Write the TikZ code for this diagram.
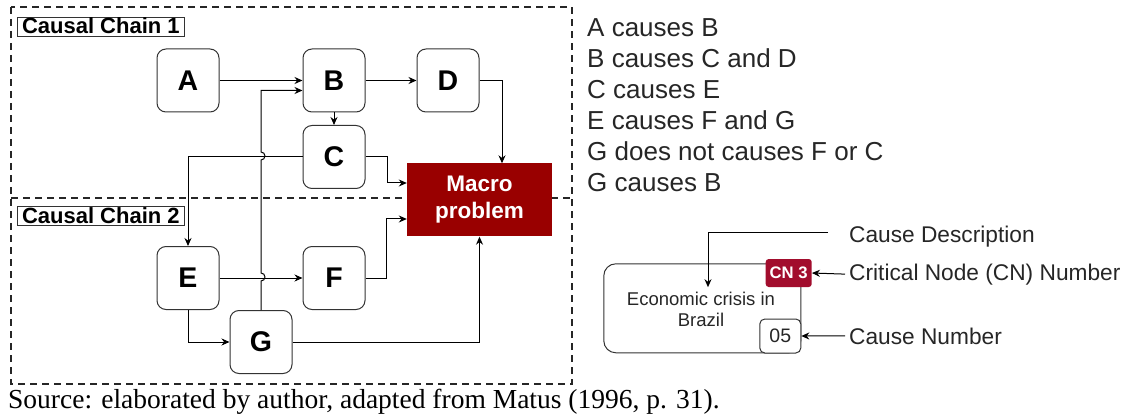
\documentclass[tikz,border=0pt]{standalone}
\usepackage{fontspec}
\setmainfont{Liberation Serif}
\setsansfont{Liberation Sans}
\usetikzlibrary{arrows.meta}
\definecolor{macrored}{RGB}{153,0,0}
\definecolor{cnred}{RGB}{162,13,45}
\definecolor{txtgray}{RGB}{38,38,38}

\begin{document}
\begin{tikzpicture}[x=1pt, y=-1pt,
    cnode/.style={draw=black!80, line width=1pt, rounded corners=9pt, minimum width=62pt, minimum height=63pt, font=\sffamily\bfseries\fontsize{28.5}{32}\selectfont},
    chainlabel/.style={draw=black!80, line width=1pt, anchor=north west, inner xsep=4.5pt, inner ysep=1pt, text height=15.5pt, text depth=2pt, font=\sffamily\bfseries\fontsize{22}{24}\selectfont},
    macro/.style={fill=macrored, text=white, minimum width=145pt, minimum height=73pt, align=center, font=\sffamily\bfseries\fontsize{22.5}{27}\selectfont},
    arr/.style={-{Stealth[length=8pt, width=7pt]}, line width=1pt},
    chainframe/.style={draw=black!85, line width=1.8pt, dash pattern=on 7pt off 5pt},
    legtext/.style={anchor=base west, inner sep=0pt, text=txtgray, font=\sffamily\fontsize{22.7}{26}\selectfont}
  ]
  \useasboundingbox (0,0) rectangle (1127,414);

  % Causal chain frames
  \draw[chainframe] (11,7) rectangle (572,384);
  \draw[chainframe] (11,198) -- (572,198);
  \node[chainlabel] (chain1) at (17,17) {Causal Chain 1};
  \node[chainlabel] (chain2) at (17,206) {Causal Chain 2};

  % Causes
  \node[cnode] (A) at (188,80.5) {A};
  \node[cnode] (B) at (334,80.5) {B};
  \node[cnode] (D) at (448,80.5) {D};
  \node[cnode] (C) at (334,157) {C};
  \node[cnode] (E) at (188,278) {E};
  \node[cnode] (F) at (334,278) {F};
  \node[cnode] (G) at (261,342) {G};

  % Macro problem
  \node[macro] (macro) at (479.5,200) {Macro\\problem};

  % Arrows - chain 1
  \draw[arr] (A) -- (B);
  \draw[arr] (B) -- (D);
  \draw[arr] (B) -- (C);
  \draw[arr] (D.east) -| ([xshift=22.5pt]macro.north);
  \draw[arr] (C.east) -- ++(22,0) |- ([yshift=17pt]macro.west);
  \draw[arr] (C.west) -| (E.north);

  % Arrows - chain 2
  \draw[arr] (E) -- (F);
  \draw[arr] (E.south) |- (G.west);
  \draw[arr] (F.east) -- ++(21,0) |- ([yshift=-19pt]macro.west);
  \draw[arr] (G.east) -| (macro.south);
  % G -> B, jumps over E->F and C->E
  \draw[arr] (G.north) -- ++(0,-29) arc[start angle=90, end angle=-90, radius=4]
    -- ++(0,-113) arc[start angle=90, end angle=-90, radius=4]
    |- ([yshift=-10pt]B.west);

  % Relations
  \node[anchor=north west, inner sep=0pt, align=left, text=txtgray,
    font=\sffamily\fontsize{26}{31}\selectfont] (rules) at (587,18.5)
    {A causes B\\B causes C and D\\C causes E\\E causes F and G\\G does not causes F or C\\G causes B};

  % Legend
  \node[draw=black!80, line width=1pt, rounded corners=12pt, minimum width=197pt, minimum height=89pt] (leg) at (702.3,308.3) {};
  \node[align=center, text=txtgray, font=\sffamily\fontsize{18.5}{21}\selectfont] (desc) at (701,309) {Economic crisis in\\Brazil};
  \node[fill=cnred, text=white, rounded corners=3pt, minimum width=46pt, minimum height=28pt, inner sep=0pt, font=\sffamily\bfseries\fontsize{16.7}{19}\selectfont] (cn) at (788.7,273) {CN 3};
  \node[draw=black!80, fill=white, line width=1pt, rounded corners=5pt, minimum width=41pt, minimum height=34pt, inner sep=0pt, text=txtgray, font=\sffamily\fontsize{19.5}{22}\selectfont] (num) at (780.3,336) {05};

  \node[legtext] (cdlbl) at (849,242) {Cause Description};
  \node[legtext] (cnlbl) at (849,280) {Critical Node (CN) Number};
  \node[legtext] (numlbl) at (849,344) {Cause Number};

  \draw[arr] ([xshift=-21pt, yshift=4pt]cdlbl.west) -| ([xshift=7pt, yshift=1pt]desc.north);
  \draw[arr] ([xshift=-4pt]cnlbl.west) -- (cn.east);
  \draw[arr] ([xshift=-4pt]numlbl.west) -- (num.east);

  % Source
  \node[anchor=base west, inner sep=0pt, font=\fontsize{27.5}{30}\selectfont] (source) at (8,408)
    {Source: elaborated by author, adapted from Matus (1996, p. 31).};
\end{tikzpicture}
\end{document}
